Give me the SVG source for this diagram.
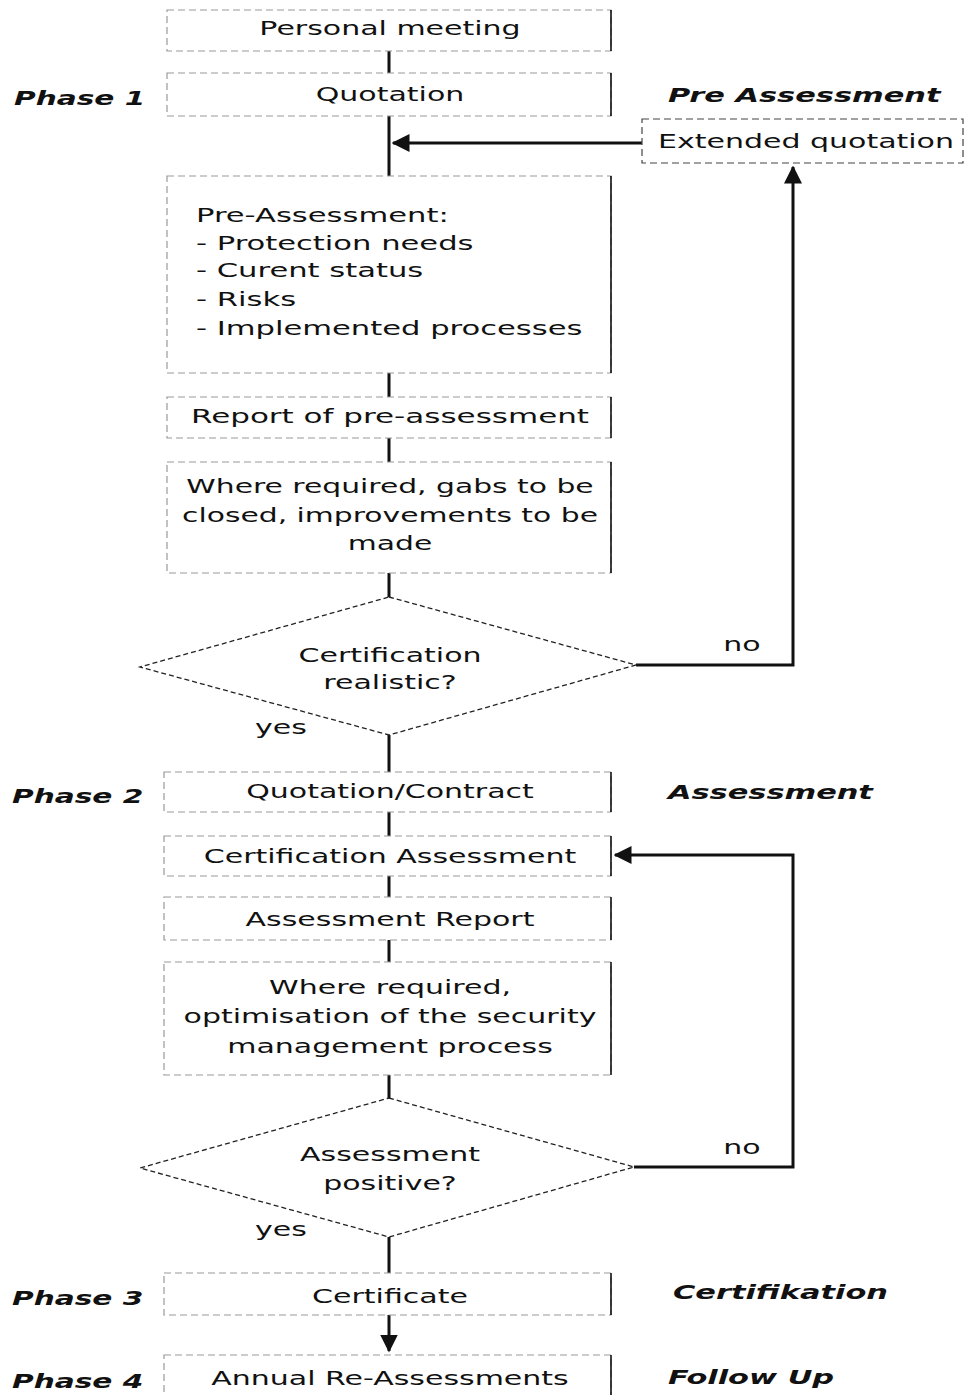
<svg xmlns="http://www.w3.org/2000/svg" width="967" height="1395" viewBox="0 0 967 1395">
<style>
.box{fill:#fff;stroke:#999;stroke-width:1.2;stroke-dasharray:7 4}
.edge{fill:none;stroke:#111;stroke-width:1.6}
.dia{fill:#fff;stroke:#222;stroke-width:1.3;stroke-dasharray:5 3}
.t{font-family:"DejaVu Sans",Verdana,sans-serif;font-size:20px;fill:#111}
.m{text-anchor:middle}
.b{font-family:"DejaVu Sans",Verdana,sans-serif;font-size:20px;font-weight:bold;font-style:italic;fill:#111}
.c{fill:none;stroke:#111;stroke-width:3}
</style>
<defs>
<marker id="ah" markerWidth="6" markerHeight="6" refX="5.5" refY="3" orient="auto" markerUnits="strokeWidth">
<path d="M0,0 L6,3 L0,6 Z" fill="#111"/>
</marker>
</defs>
<rect width="967" height="1395" fill="#fff"/>
<g id="connectors">
<path class="c" d="M389,51 V73"/>
<path class="c" d="M389,116 V176"/>
<path class="c" d="M642,143 H393" marker-end="url(#ah)"/>
<path class="c" d="M389,373 V397"/>
<path class="c" d="M389,438 V462"/>
<path class="c" d="M389,573 V597"/>
<path class="c" d="M636,665 H793 V167" marker-end="url(#ah)"/>
<path class="c" d="M389,735 V772"/>
<path class="c" d="M389,812 V836"/>
<path class="c" d="M389,876 V897"/>
<path class="c" d="M389,940 V962"/>
<path class="c" d="M389,1075 V1098"/>
<path class="c" d="M634,1167 H793 V855 H615" marker-end="url(#ah)"/>
<path class="c" d="M389,1237 V1273"/>
<path class="c" d="M389,1315 V1351" marker-end="url(#ah)"/>
</g>
<g id="personal-meeting">
<rect class="box" x="167" y="10" width="444" height="41"/>
<path class="edge" d="M611,10 V51"/>
<text class="t m" transform="translate(390,35) scale(1.5,1)">Personal meeting</text>
</g>
<g id="quotation">
<rect class="box" x="167" y="73" width="444" height="43"/>
<path class="edge" d="M611,73 V116"/>
<text class="t m" transform="translate(390,101) scale(1.5,1)">Quotation</text>
</g>
<g id="extended-quotation">
<rect class="box" x="642" y="119" width="321" height="44" style="stroke:#444"/>
<text class="t m" transform="translate(806,148) scale(1.5,1)">Extended quotation</text>
</g>
<g id="pre-assessment">
<rect class="box" x="167" y="176" width="444" height="197"/>
<path class="edge" d="M611,176 V373"/>
<text class="t" transform="translate(196,222) scale(1.53,1)"><tspan x="0" y="0">Pre-Assessment:</tspan><tspan x="0" y="28">- Protection needs</tspan><tspan x="0" y="55">- Curent status</tspan><tspan x="0" y="84">- Risks</tspan><tspan x="0" y="113">- Implemented processes</tspan></text>
</g>
<g id="report-pre-assessment">
<rect class="box" x="167" y="397" width="444" height="41"/>
<path class="edge" d="M611,397 V438"/>
<text class="t m" transform="translate(390,423) scale(1.55,1)">Report of pre-assessment</text>
</g>
<g id="gaps">
<rect class="box" x="167" y="462" width="444" height="111"/>
<path class="edge" d="M611,462 V573"/>
<text class="t m" transform="translate(390,493) scale(1.49,1)"><tspan x="0" y="0">Where required, gabs to be</tspan><tspan x="0" y="29">closed, improvements to be</tspan><tspan x="0" y="57">made</tspan></text>
</g>
<g id="certification-realistic">
<path class="dia" d="M389,597 L636,665 L389,735 L140,667 Z"/>
<text class="t m" transform="translate(390,662) scale(1.5,1)"><tspan x="0" y="0">Certification</tspan><tspan x="0" y="27">realistic?</tspan></text>
</g>
<g id="labels-1">
<text class="t m" transform="translate(742,651) scale(1.5,1)">no</text>
<text class="t m" transform="translate(281,734) scale(1.5,1)">yes</text>
</g>
<g id="quotation-contract">
<rect class="box" x="164" y="772" width="447" height="40"/>
<path class="edge" d="M611,772 V812"/>
<text class="t m" transform="translate(390,798) scale(1.5,1)">Quotation/Contract</text>
</g>
<g id="certification-assessment">
<rect class="box" x="164" y="836" width="447" height="40"/>
<path class="edge" d="M611,836 V876"/>
<text class="t m" transform="translate(390,863) scale(1.5,1)">Certification Assessment</text>
</g>
<g id="assessment-report">
<rect class="box" x="164" y="897" width="447" height="43"/>
<path class="edge" d="M611,897 V940"/>
<text class="t m" transform="translate(390,926) scale(1.5,1)">Assessment Report</text>
</g>
<g id="optimisation">
<rect class="box" x="164" y="962" width="447" height="113"/>
<path class="edge" d="M611,962 V1075"/>
<text class="t m" transform="translate(390,994) scale(1.5,1)"><tspan x="0" y="0">Where required,</tspan><tspan x="0" y="29">optimisation of the security</tspan><tspan x="0" y="59">management process</tspan></text>
</g>
<g id="assessment-positive">
<path class="dia" d="M389,1098 L634,1167 L389,1237 L140,1168 Z"/>
<text class="t m" transform="translate(390,1161) scale(1.5,1)"><tspan x="0" y="0">Assessment</tspan><tspan x="0" y="29">positive?</tspan></text>
</g>
<g id="labels-2">
<text class="t m" transform="translate(742,1154) scale(1.5,1)">no</text>
<text class="t m" transform="translate(281,1236) scale(1.5,1)">yes</text>
</g>
<g id="certificate">
<rect class="box" x="164" y="1273" width="447" height="42"/>
<path class="edge" d="M611,1273 V1315"/>
<text class="t m" transform="translate(390,1303) scale(1.5,1)">Certificate</text>
</g>
<g id="annual">
<rect class="box" x="164" y="1355" width="447" height="50"/>
<path class="edge" d="M611,1355 V1395"/>
<text class="t m" transform="translate(390,1385) scale(1.5,1)">Annual Re-Assessments</text>
</g>
<g id="phases">
<text class="b" transform="translate(14,105) scale(1.48,1)">Phase 1</text>
<text class="b" transform="translate(12,803) scale(1.48,1)">Phase 2</text>
<text class="b" transform="translate(12,1305) scale(1.48,1)">Phase 3</text>
<text class="b" transform="translate(12,1388) scale(1.48,1)">Phase 4</text>
<text class="b" transform="translate(668,102) scale(1.52,1)">Pre Assessment</text>
<text class="b" transform="translate(668,799) scale(1.52,1)">Assessment</text>
<text class="b" transform="translate(673,1299) scale(1.52,1)">Certifikation</text>
<text class="b" transform="translate(668,1384) scale(1.52,1)">Follow Up</text>
</g>
</svg>
